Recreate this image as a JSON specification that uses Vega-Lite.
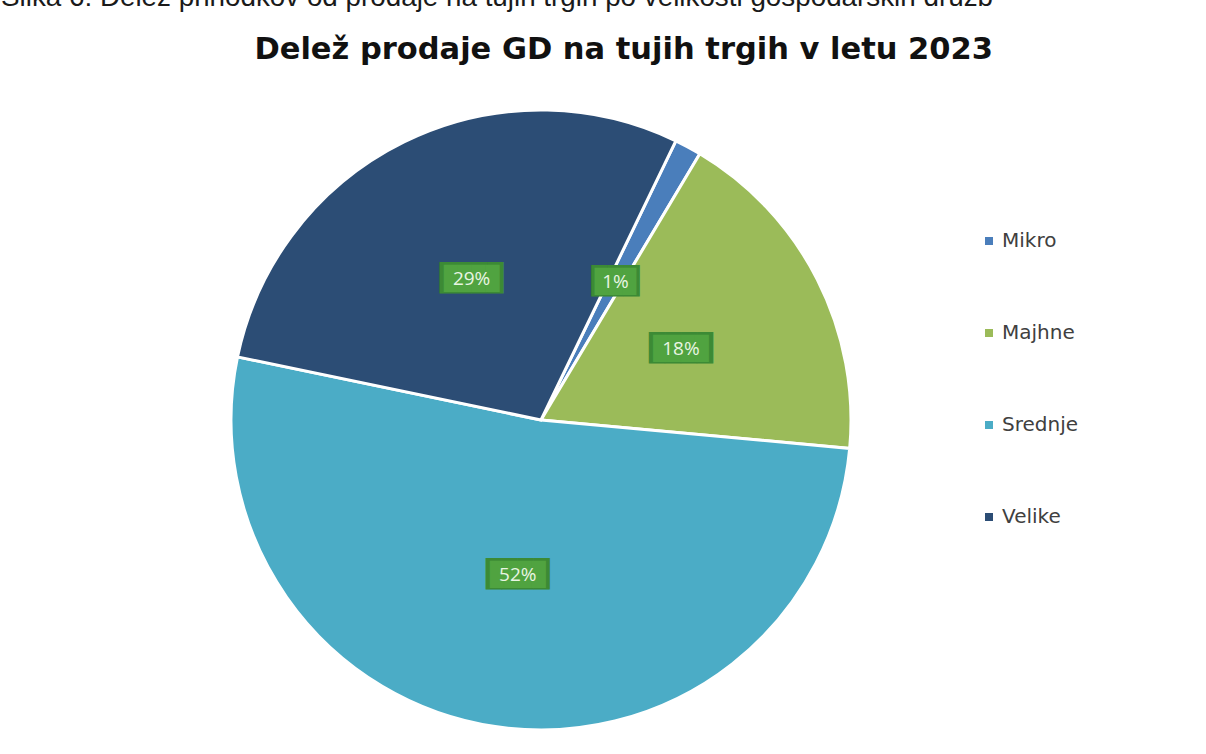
{
  "$schema": "https://vega.github.io/schema/vega-lite/v6.json",
  "width": 620,
  "height": 620,
  "autosize": {"type": "none"},
  "padding": {"left": 231, "top": 110, "right": 355, "bottom": 24},
  "background": "white",
  "config": {"view": {"stroke": null}},
  "title": {
    "text": "Slika 6: Delež prihodkov od prodaje na tujih trgih po velikosti gospodarskih družb",
    "subtitle": "Delež prodaje GD na tujih trgih v letu 2023",
    "anchor": "end",
    "frame": "group",
    "dx": 142,
    "offset": 39,
    "limit": 0,
    "font": "Liberation Sans",
    "fontSize": 27.8,
    "fontWeight": "normal",
    "color": "#1a1a1a",
    "subtitleFont": "DejaVu Sans",
    "subtitleFontSize": 30.5,
    "subtitleFontWeight": "bold",
    "subtitleColor": "#111111",
    "subtitlePadding": 23
  },
  "data": {
    "values": [
      {"Size": "Mikro", "Share": 1.4, "rank": 1, "Label": "1%"},
      {"Size": "Majhne", "Share": 17.9, "rank": 2, "Label": "18%"},
      {"Size": "Srednje", "Share": 51.8, "rank": 3, "Label": "52%"},
      {"Size": "Velike", "Share": 28.9, "rank": 4, "Label": "29%"}
    ]
  },
  "encoding": {
    "theta": {"field": "Share", "type": "quantitative", "stack": true, "scale": {"range": [0.45, 6.7332]}},
    "order": {"field": "rank", "type": "quantitative"}
  },
  "layer": [
    {
      "mark": {"type": "arc", "outerRadius": 310, "stroke": "white", "strokeWidth": 3},
      "encoding": {
        "color": {
          "field": "Size",
          "type": "nominal",
          "sort": ["Mikro", "Majhne", "Srednje", "Velike"],
          "scale": {"domain": ["Mikro", "Majhne", "Srednje", "Velike"], "range": ["#4a7ebb", "#9bbb59", "#4bacc6", "#2c4d75"]},
          "legend": {
            "orient": "none",
            "legendX": 748,
            "legendY": 121,
            "title": null,
            "symbolType": "square",
            "symbolSize": 64,
            "symbolStrokeWidth": 0,
            "labelFont": "DejaVu Sans",
            "labelFontSize": 20,
            "labelColor": "#404040",
            "rowPadding": 72,
            "labelOffset": 3,
            "padding": 0
          }
        }
      }
    },
    {
      "mark": {"type": "text", "radius": 157, "font": "DejaVu Sans Mono", "fontSize": 26.5, "fill": "#3c8a35"},
      "encoding": {
        "detail": {"field": "Size", "type": "nominal"},
        "text": {"condition": {"test": "length(datum.Label) < 3", "value": "███"}, "value": "████"}
      }
    },
    {
      "mark": {"type": "text", "radius": 157, "font": "DejaVu Sans Mono", "fontSize": 23, "fill": "#50a340"},
      "encoding": {
        "detail": {"field": "Size", "type": "nominal"},
        "text": {"condition": {"test": "length(datum.Label) < 3", "value": "███"}, "value": "████"}
      }
    },
    {
      "mark": {"type": "text", "radius": 157, "font": "Open Sans", "fontSize": 19, "fill": "#e8f5e2"},
      "encoding": {
        "detail": {"field": "Size", "type": "nominal"},
        "text": {"field": "Label", "type": "nominal"}
      }
    }
  ]
}
